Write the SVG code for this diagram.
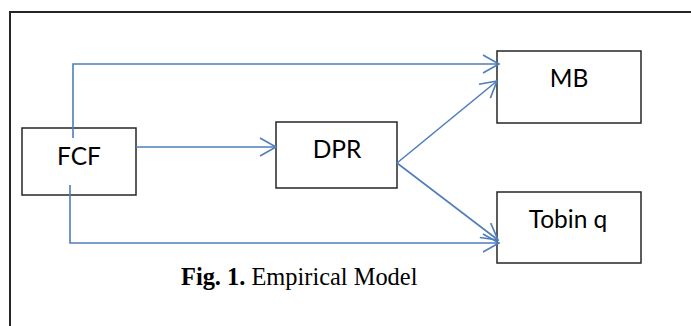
<svg xmlns="http://www.w3.org/2000/svg" width="691" height="326" viewBox="0 0 691 326">
  <style>
    .box { fill: #ffffff; stroke: #262626; stroke-width: 1.5; }
    .lbl { font-family: Lato, "Open Sans", "Liberation Sans", sans-serif; font-size: 24.5px; fill: #000000; text-anchor: middle; }
    .conn { fill: none; stroke: #4F7EBB; stroke-width: 1.6; }
    .cap { font-family: "Liberation Serif", serif; font-size: 24.4px; fill: #000000; }
  </style>
  <defs>
    <marker id="arr" viewBox="-18 -11 20 22" markerUnits="userSpaceOnUse" markerWidth="20" markerHeight="22" refX="0" refY="0" orient="auto">
      <path d="M-16,-9 L0,0 L-16,9" fill="none" stroke="#4F7EBB" stroke-width="1.6"/>
    </marker>
  </defs>
  <rect x="0" y="0" width="691" height="326" fill="#ffffff"/>
  <path d="M10,326 V12 H691" fill="none" stroke="#262626" stroke-width="2"/>

  <g id="FCF">
    <rect class="box" x="22" y="128" width="114" height="67"/>
    <text class="lbl" x="79" y="165">FCF</text>
  </g>
  <g id="DPR">
    <rect class="box" x="276" y="122" width="121" height="66"/>
    <text class="lbl" x="337" y="158">DPR</text>
  </g>
  <g id="MB">
    <rect class="box" x="497" y="51" width="144" height="72"/>
    <text class="lbl" x="569" y="87">MB</text>
  </g>
  <g id="Tobin">
    <rect class="box" x="497" y="192" width="144" height="71"/>
    <text class="lbl" x="568" y="228">Tobin q</text>
  </g>

  <g id="connectors">
    <path class="conn" d="M73,138 V64 H499" marker-end="url(#arr)"/>
    <path class="conn" d="M136,147 H276" marker-end="url(#arr)"/>
    <path class="conn" d="M397,163 L497,81" marker-end="url(#arr)"/>
    <path class="conn" d="M397,163 L498,240" marker-end="url(#arr)"/>
    <path class="conn" d="M70,185 V243 H499" marker-end="url(#arr)"/>
  </g>

  <text class="cap" x="181" y="285"><tspan font-weight="bold">Fig. 1.</tspan> Empirical Model</text>
</svg>
